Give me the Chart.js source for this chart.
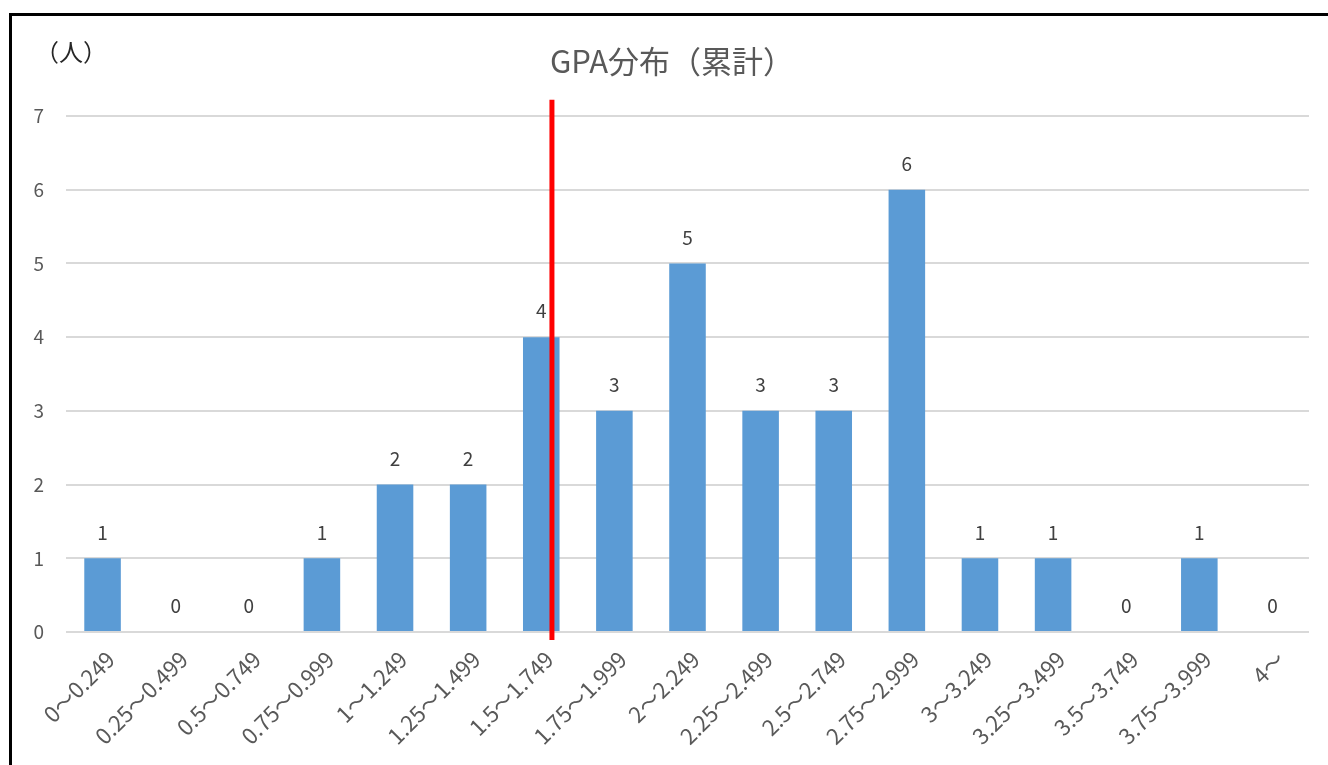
<!DOCTYPE html>
<html>
<head>
<meta charset="utf-8">
<script src="https://cdn.jsdelivr.net/npm/chart.js@4/dist/chart.umd.min.js"></script>
<style>
  html, body { margin: 0; padding: 0; background: #fff; overflow: hidden; }
  #frame {
    position: absolute; left: 9px; top: 13px;
    width: 1400px; height: 800px;
    border: 3px solid #000; box-sizing: border-box;
  }
  #wrap { position: absolute; left: 0; top: 0; width: 1328px; height: 765px; }
</style>
</head>
<body>
<div id="frame"></div>
<div id="wrap"><canvas id="chart" width="1328" height="765"></canvas></div>
<script>
const categories = [
  "0～0.249", "0.25～0.499", "0.5～0.749", "0.75～0.999",
  "1～1.249", "1.25～1.499", "1.5～1.749", "1.75～1.999",
  "2～2.249", "2.25～2.499", "2.5～2.749", "2.75～2.999",
  "3～3.249", "3.25～3.499", "3.5～3.749", "3.75～3.999", "4～"
];
const counts = [1, 0, 0, 1, 2, 2, 4, 3, 5, 3, 3, 6, 1, 1, 0, 1, 0];
const yTicks = [0, 1, 2, 3, 4, 5, 6, 7];

// red marker line (category position, y extent)
const markerAt = 6.146;
const markerTop = 7.22;
const markerBottom = -0.11;

const FONT = "'Noto Sans CJK JP', 'Noto Sans', sans-serif";

const extras = {
  id: "extras",
  afterDatasetsDraw(chart) {
    const ctx = chart.ctx;
    const x = chart.scales.x, y = chart.scales.y;

    // value labels
    ctx.save();
    ctx.font = "19px " + FONT;
    ctx.fillStyle = "#404040";
    ctx.textAlign = "center";
    ctx.textBaseline = "middle";
    chart.getDatasetMeta(0).data.forEach((bar, i) => {
      ctx.fillText(String(counts[i]), bar.x, bar.y - 26);
    });
    ctx.restore();

    // red line
    const px = x.getPixelForValue(markerAt);
    ctx.save();
    ctx.strokeStyle = "#FF0000";
    ctx.lineWidth = 5;
    ctx.beginPath();
    ctx.moveTo(px, y.getPixelForValue(markerTop));
    ctx.lineTo(px, y.getPixelForValue(markerBottom));
    ctx.stroke();
    ctx.restore();

    // title
    ctx.save();
    ctx.font = "31px " + FONT;
    ctx.fillStyle = "#595959";
    ctx.textAlign = "center";
    ctx.textBaseline = "middle";
    ctx.fillText("GPA分布（累計）", 672, 61);
    ctx.restore();

    // unit label
    ctx.save();
    ctx.font = "24px " + FONT;
    ctx.fillStyle = "#262626";
    ctx.textAlign = "left";
    ctx.textBaseline = "middle";
    ctx.fillText("（人）", 35, 52);
    ctx.restore();
  }
};

new Chart(document.getElementById("chart"), {
  type: "bar",
  data: {
    labels: categories,
    datasets: [{
      data: counts,
      backgroundColor: "#5B9BD5",
      barPercentage: 0.5,
      categoryPercentage: 1.0
    }]
  },
  options: {
    responsive: false,
    animation: false,
    layout: { padding: { left: 0, right: 19, top: 116, bottom: 0 } },
    plugins: {
      legend: { display: false },
      tooltip: { enabled: false },
      title: { display: false }
    },
    scales: {
      x: {
        grid: { display: false },
        border: { display: false },
        ticks: {
          color: "#595959",
          font: { family: FONT, size: 22 },
          minRotation: 45,
          maxRotation: 45,
          autoSkip: false,
          padding: 6,
          labelOffset: 8
        },
        afterFit(scale) { scale.height = 133; }
      },
      y: {
        min: 0,
        max: 7,
        afterBuildTicks(scale) { scale.ticks = yTicks.map(v => ({ value: v })); },
        grid: { color: "#D9D9D9", lineWidth: 2, drawTicks: false },
        border: { display: false },
        ticks: {
          color: "#595959",
          font: { family: FONT, size: 19 },
          padding: 22
        },
        afterFit(scale) { scale.width = 66; }
      }
    }
  },
  plugins: [extras]
});
</script>
</body>
</html>
